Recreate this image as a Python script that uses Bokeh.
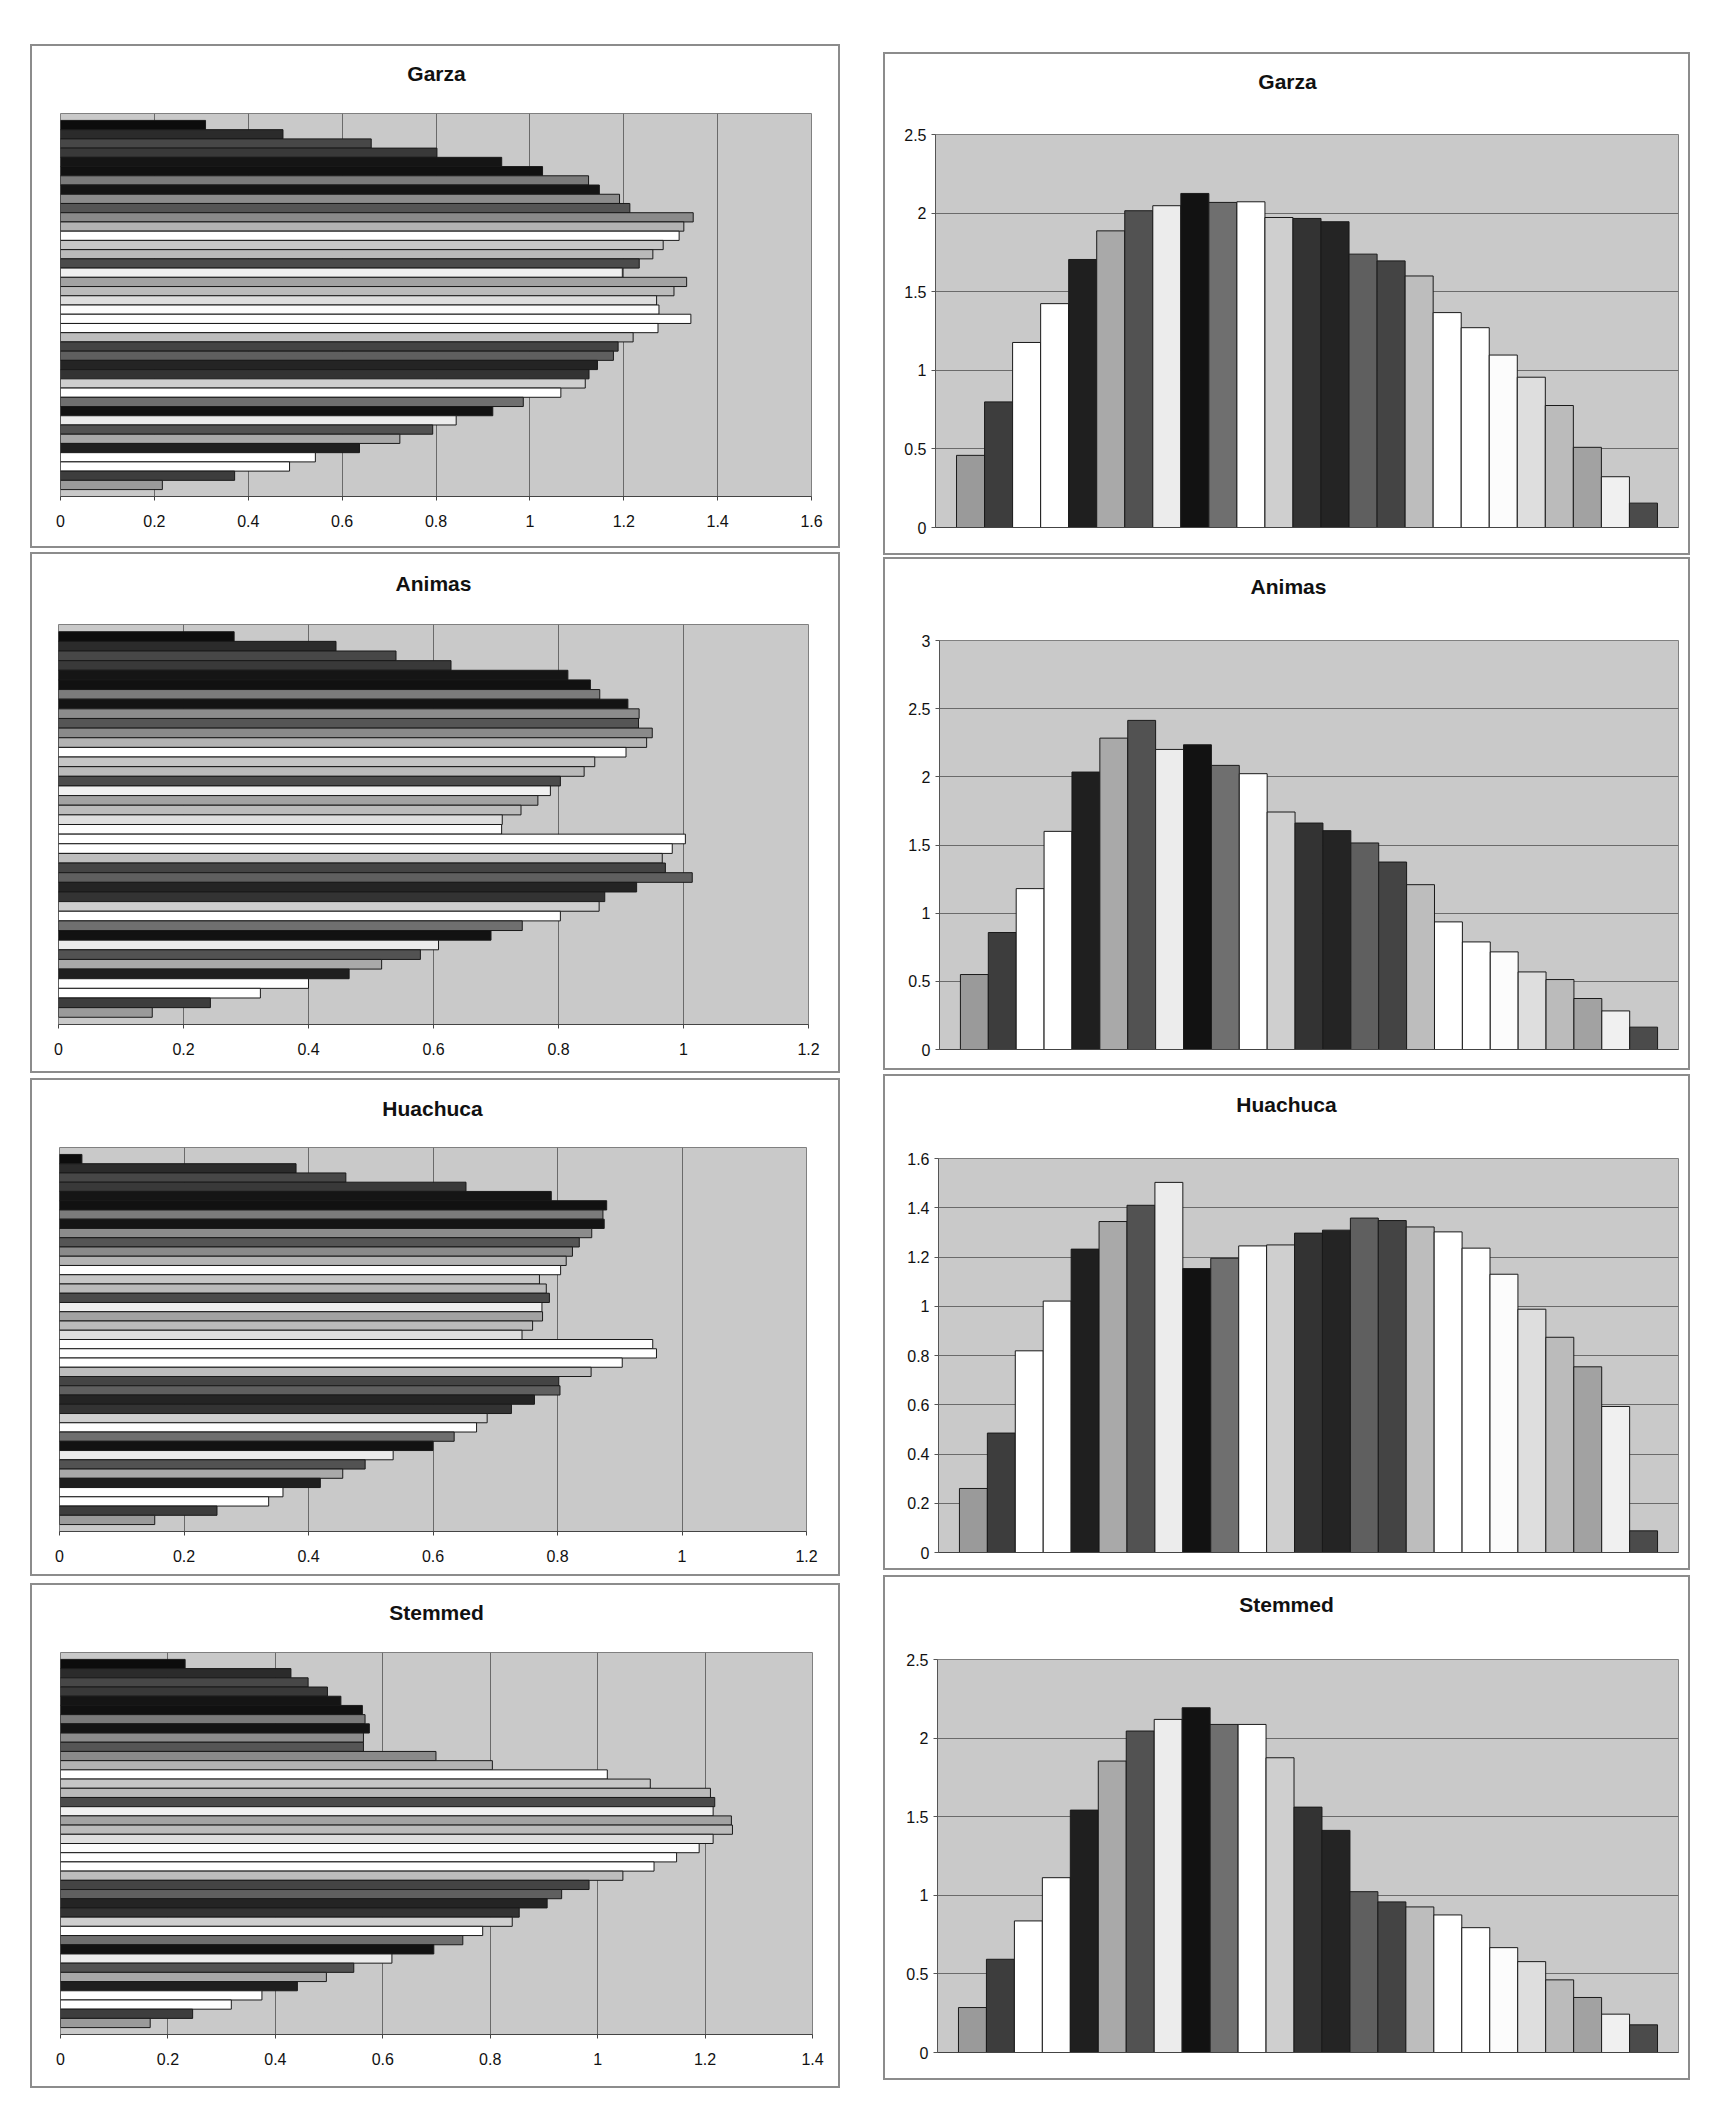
from bokeh.plotting import figure
from bokeh.models import Range1d, FixedTicker, CustomJSTickFormatter, Spacer
from bokeh.core.properties import value
from bokeh.layouts import column, row
from bokeh.embed import file_html
from bokeh.resources import INLINE

# ---------------- data ----------------
titles = ["Garza", "Animas", "Huachuca", "Stemmed"]

# series colours (series 1 .. 40, grayscale)
series_colors = [
    "#9a9a9a", "#3d3d3d", "#ffffff", "#ffffff", "#1f1f1f",
    "#a9a9a9", "#525252", "#ececec", "#121212", "#6f6f6f",
    "#ffffff", "#cfcfcf", "#333333", "#242424", "#5f5f5f",
    "#444444", "#bdbdbd", "#ffffff", "#ffffff", "#fcfcfc",
    "#dedede", "#bbbbbb", "#a2a2a2", "#f0f0f0", "#4b4b4b",
    "#bababa", "#c6c6c6", "#ffffff", "#b3b3b3", "#8a8a8a",
    "#555555", "#8c8c8c", "#141414", "#7b7b7b", "#111111",
    "#151515", "#393939", "#474747", "#2b2b2b", "#0c0c0c",
]

# left (horizontal) charts: values listed from top bar to bottom bar
garza_left = [0.309, 0.474, 0.662, 0.802, 0.940, 1.027, 1.125, 1.148, 1.191, 1.213,
              1.348, 1.328, 1.318, 1.284, 1.262, 1.233, 1.197, 1.334, 1.307, 1.270,
              1.275, 1.343, 1.273, 1.220, 1.188, 1.178, 1.144, 1.126, 1.118, 1.066,
              0.986, 0.921, 0.843, 0.793, 0.723, 0.637, 0.543, 0.488, 0.371, 0.217]
animas_left = [0.281, 0.444, 0.540, 0.628, 0.815, 0.851, 0.866, 0.911, 0.929, 0.928,
               0.950, 0.941, 0.908, 0.858, 0.841, 0.803, 0.787, 0.767, 0.740, 0.710,
               0.709, 1.003, 0.982, 0.966, 0.971, 1.014, 0.925, 0.874, 0.865, 0.803,
               0.742, 0.692, 0.608, 0.579, 0.517, 0.465, 0.400, 0.323, 0.243, 0.150]
huachuca_left = [0.036, 0.380, 0.460, 0.653, 0.790, 0.879, 0.873, 0.875, 0.855, 0.835,
                 0.824, 0.814, 0.805, 0.771, 0.782, 0.787, 0.775, 0.776, 0.760, 0.743,
                 0.953, 0.959, 0.904, 0.854, 0.802, 0.804, 0.763, 0.726, 0.687, 0.670,
                 0.634, 0.600, 0.536, 0.491, 0.455, 0.419, 0.359, 0.336, 0.253, 0.153]
stemmed_left = [0.232, 0.429, 0.461, 0.497, 0.522, 0.562, 0.567, 0.575, 0.564, 0.564,
                0.699, 0.804, 1.018, 1.098, 1.210, 1.218, 1.215, 1.249, 1.251, 1.215,
                1.189, 1.147, 1.105, 1.047, 0.984, 0.933, 0.906, 0.854, 0.841, 0.786,
                0.749, 0.695, 0.617, 0.546, 0.495, 0.441, 0.375, 0.318, 0.246, 0.167]

# right (vertical) charts: values from left bar to right bar
garza_right = [0.459, 0.799, 1.177, 1.424, 1.705, 1.887, 2.015, 2.047, 2.125, 2.068,
               2.072, 1.972, 1.966, 1.945, 1.739, 1.696, 1.600, 1.367, 1.271, 1.097,
               0.956, 0.776, 0.510, 0.323, 0.155]
animas_right = [0.550, 0.858, 1.180, 1.600, 2.035, 2.284, 2.414, 2.201, 2.235, 2.084,
                2.023, 1.742, 1.661, 1.605, 1.515, 1.375, 1.209, 0.936, 0.789, 0.716,
                0.569, 0.513, 0.374, 0.283, 0.164]
huachuca_right = [0.260, 0.485, 0.819, 1.021, 1.232, 1.344, 1.410, 1.503, 1.153, 1.195,
                  1.245, 1.249, 1.297, 1.309, 1.358, 1.348, 1.322, 1.302, 1.236, 1.130,
                  0.988, 0.874, 0.754, 0.593, 0.088]
stemmed_right = [0.286, 0.593, 0.837, 1.112, 1.542, 1.854, 2.045, 2.119, 2.193, 2.087,
                 2.087, 1.875, 1.561, 1.413, 1.023, 0.958, 0.926, 0.875, 0.794, 0.667,
                 0.578, 0.462, 0.350, 0.244, 0.176]

left_ticks = [
    [0, 0.2, 0.4, 0.6, 0.8, 1.0, 1.2, 1.4, 1.6],
    [0, 0.2, 0.4, 0.6, 0.8, 1.0, 1.2],
    [0, 0.2, 0.4, 0.6, 0.8, 1.0, 1.2],
    [0, 0.2, 0.4, 0.6, 0.8, 1.0, 1.2, 1.4],
]
right_ticks = [
    [0, 0.5, 1.0, 1.5, 2.0, 2.5],
    [0, 0.5, 1.0, 1.5, 2.0, 2.5, 3.0],
    [0, 0.2, 0.4, 0.6, 0.8, 1.0, 1.2, 1.4, 1.6],
    [0, 0.5, 1.0, 1.5, 2.0, 2.5],
]

# ---------------- style / layout ----------------
FONT = "Liberation Sans"
PLOT_BG = "#c9c9c9"
GRID = "#6a6a6a"
FRAME = "#808080"
BW = 2  # panel border width
TITLE_PX = 21
fmt = CustomJSTickFormatter(code="return String(Math.round(tick*10)/10);")

# panel boxes in page pixels: (x0, y0, x1, y1), frames (fx0, fy0, fx1, fy1)
left_boxes = [(30, 44, 840, 548), (30, 552, 840, 1073), (30, 1078, 840, 1576), (30, 1583, 840, 2088)]
left_frames = [(60, 113, 811, 496), (58, 624, 808, 1024), (59, 1147, 806, 1531), (60, 1652, 812, 2034)]
left_title_cy = [73, 583, 1108, 1612]      # title centre, page y
left_title_cx = [436, 433, 432, 436]       # title centre, page x
right_boxes = [(883, 52, 1690, 555), (883, 557, 1690, 1070), (883, 1074, 1690, 1570), (883, 1575, 1690, 2080)]
right_frames = [(935, 134, 1678, 527), (939, 640, 1678, 1049), (938, 1158, 1678, 1552), (937, 1659, 1678, 2052)]
right_title_cy = [81, 586, 1104, 1604]
right_title_cx = [1287, 1288, 1286, 1286]


def title_fig(text, box, frame, cx, cy):
    x0, y0, x1, y1 = box
    fx0, fy0, fx1, fy1 = frame
    cw = (x1 - x0) - 2 * BW
    ht = 2 * (cy - (y0 + BW))
    # same horizontal borders as the chart below, so that frames line up
    t = figure(width=cw, height=ht, output_backend="svg", toolbar_location=None,
               title=None, x_range=Range1d(fx0, fx1), y_range=Range1d(0, ht),
               min_border_left=fx0 - (x0 + BW), min_border_right=(x1 - BW) - fx1,
               min_border_top=0, min_border_bottom=0)
    t.xaxis.visible = False
    t.yaxis.visible = False
    t.xgrid.visible = False
    t.ygrid.visible = False
    t.outline_line_color = None
    t.background_fill_color = "white"
    t.border_fill_color = "white"
    t.text(x=[cx], y=[ht / 2], text=[text], text_align="center",
           text_baseline="middle", text_font=value(FONT),
           text_font_size=value(f"{TITLE_PX}px"), text_font_style="bold",
           text_color="#111111")
    return t, ht


def make_fig(box, frame, ht, xr, yr):
    x0, y0, x1, y1 = box
    fx0, fy0, fx1, fy1 = frame
    cw, ch = (x1 - x0) - 2 * BW, (y1 - y0) - 2 * BW - ht
    p = figure(width=cw, height=ch, output_backend="svg", toolbar_location=None,
               title=None, x_range=xr, y_range=yr,
               min_border_left=fx0 - (x0 + BW), min_border_right=(x1 - BW) - fx1,
               min_border_top=fy0 - (y0 + BW) - ht, min_border_bottom=(y1 - BW) - fy1)
    p.background_fill_color = PLOT_BG
    p.border_fill_color = "white"
    p.outline_line_color = FRAME
    p.outline_line_width = 1
    return p


def style_axis(ax, col):
    ax.axis_line_color = col
    ax.major_tick_line_color = col
    ax.major_tick_out = 4
    ax.major_tick_in = 0
    ax.minor_tick_line_color = None
    ax.major_label_text_font = FONT
    ax.major_label_text_font_size = "16px"
    ax.major_label_text_color = "#111111"


def panel(t, p):
    return column(t, p, styles={"border": f"{BW}px solid #8c8c8c"})


def left_chart(i, vals):
    ticks = left_ticks[i]
    n = len(vals)
    pos = list(range(n))
    colors = [series_colors[n - 1 - k] for k in range(n)]
    t, ht = title_fig(titles[i], left_boxes[i], left_frames[i], left_title_cx[i], left_title_cy[i])
    p = make_fig(left_boxes[i], left_frames[i], ht,
                 Range1d(0, ticks[-1]), Range1d(n - 0.5 + 0.75, -0.5 - 0.75))
    p.hbar(y=pos, left=0, right=vals, height=1.0, fill_color=colors,
           line_color="#1a1a1a", line_width=1)
    p.yaxis.visible = False
    p.ygrid.visible = False
    p.xgrid.grid_line_color = GRID
    p.xaxis.ticker = FixedTicker(ticks=ticks)
    p.xgrid.ticker = FixedTicker(ticks=ticks)
    p.xaxis.formatter = fmt
    style_axis(p.xaxis[0], "#444444")
    p.xaxis.major_label_standoff = 14
    return panel(t, p)


def right_chart(i, vals):
    ticks = right_ticks[i]
    n = len(vals)
    pos = list(range(n))
    colors = [series_colors[k] for k in range(n)]
    t, ht = title_fig(titles[i], right_boxes[i], right_frames[i], right_title_cx[i], right_title_cy[i])
    p = make_fig(right_boxes[i], right_frames[i], ht,
                 Range1d(-0.5 - 0.75, n - 0.5 + 0.75), Range1d(0, ticks[-1]))
    p.vbar(x=pos, bottom=0, top=vals, width=1.0, fill_color=colors,
           line_color="#1a1a1a", line_width=1)
    p.xgrid.visible = False
    p.ygrid.grid_line_color = GRID
    p.yaxis.ticker = FixedTicker(ticks=ticks)
    p.ygrid.ticker = FixedTicker(ticks=ticks)
    p.yaxis.formatter = fmt
    style_axis(p.yaxis[0], "#555555")
    p.yaxis.major_label_standoff = 5
    xa = p.xaxis[0]
    xa.ticker = FixedTicker(ticks=[])
    xa.major_tick_line_color = None
    xa.minor_tick_line_color = None
    xa.axis_line_color = "#444444"
    xa.major_label_standoff = 0
    return panel(t, p)


left_data = [garza_left, animas_left, huachuca_left, stemmed_left]
right_data = [garza_right, animas_right, huachuca_right, stemmed_right]

lefts = [left_chart(i, left_data[i]) for i in range(4)]
rights = [right_chart(i, right_data[i]) for i in range(4)]


def stack(panels, boxes):
    items = []
    prev = 0
    for pan, b in zip(panels, boxes):
        items.append(Spacer(width=10, height=b[1] - prev))
        items.append(pan)
        prev = b[3]
    return column(*items)


left_col = stack(lefts, left_boxes)
right_col = stack(rights, right_boxes)
layout = row(Spacer(width=left_boxes[0][0], height=10), left_col,
             Spacer(width=right_boxes[0][0] - left_boxes[0][2], height=10), right_col)

open("out.html", "w").write(file_html(layout, INLINE))
